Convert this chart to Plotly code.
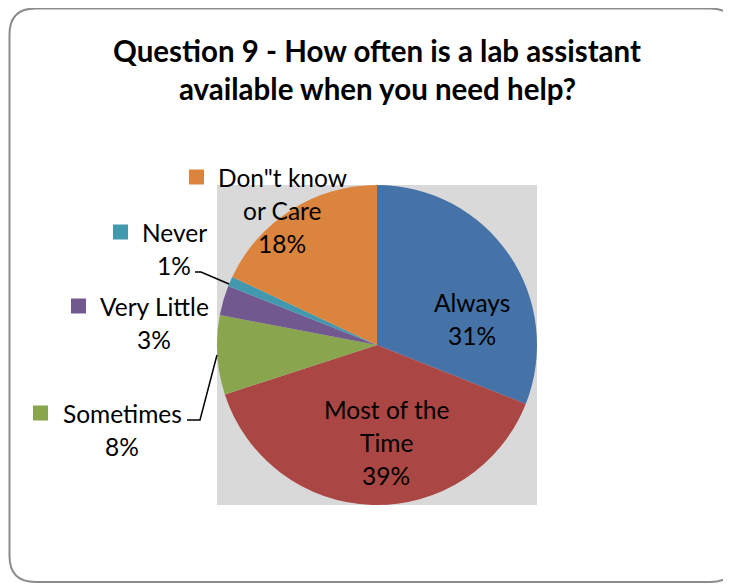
import plotly.graph_objects as go

# window size; the page body adds an 8px margin, so the figure is drawn 8px in
W, H = 731, 584
OFF = 8
FW, FH = W - OFF, H - OFF

# data
labels = ["Always", "Most of the Time", "Sometimes", "Very Little", "Never", 'Don"t know or Care']
values = [31, 39, 8, 3, 1, 18]
colors = ["#4572A7", "#AA4643", "#89A54E", "#71588F", "#4198AF", "#DB843D"]

title_lines = ["Question 9 - How often is a lab assistant", "available when you need help?"]

# label blocks: (lines, center x, first line y, key square x or None)
label_blocks = [
    (["Always", "31%"], 472, 302, None),
    (["Most of the", "Time", "39%"], 386, 409, None),
    (["Sometimes", "8%"], 122, 413, 33),
    (["Very Little", "3%"], 154, 306, 71),
    (["Never", "1%"], 174, 232, 113),
    (['Don"t know', "or Care", "18%"], 282, 177, 189),
]
line_gap = 33

# plot area in window pixels
px0, px1, py0, py1 = 217, 537, 185, 505

fig = go.Figure()

# invisible axes covering the whole figure, in window pixels
fig.add_trace(go.Scatter(x=[OFF, W], y=[OFF, H], mode="markers",
                         marker=dict(opacity=0), hoverinfo="skip", showlegend=False))

fig.add_trace(go.Pie(
    labels=labels,
    values=values,
    marker=dict(colors=colors, line=dict(width=0)),
    sort=False,
    direction="clockwise",
    rotation=0,
    textinfo="none",
    hoverinfo="label+percent",
    showlegend=False,
    domain=dict(x=[(px0 - OFF) / FW, (px1 - OFF) / FW],
                y=[1 - (py1 - OFF) / FH, 1 - (py0 - OFF) / FH]),
))

shapes = []
# gray plot area
shapes.append(dict(type="rect", xref="x", yref="y", x0=px0, x1=px1, y0=py0, y1=py1,
                   fillcolor="#D9D9D9", line=dict(width=0), layer="below"))

# rounded chart border
r = 26
bx0, bx1, by0, by1 = 9.5, 736, 8.5, 582
path = (f"M {bx0+r},{by0} L {bx1-r},{by0} Q {bx1},{by0} {bx1},{by0+r} "
        f"L {bx1},{by1-r} Q {bx1},{by1} {bx1-r},{by1} L {bx0+r},{by1} "
        f"Q {bx0},{by1} {bx0},{by1-r} L {bx0},{by0+r} Q {bx0},{by0} {bx0+r},{by0} Z")
shapes.append(dict(type="path", xref="x", yref="y", path=path,
                   line=dict(color="#8C8C8C", width=2), layer="below"))

# leader lines
shapes.append(dict(type="path", xref="x", yref="y", path="M 195,272 L 201,272 L 229,284",
                   line=dict(color="black", width=1.5)))
shapes.append(dict(type="path", xref="x", yref="y", path="M 187,420 L 200,420 L 217,355",
                   line=dict(color="black", width=1.5)))

annotations = []
for i, t in enumerate(title_lines):
    annotations.append(dict(x=377, y=50 + i * 38, xref="x", yref="y", text=f"<b>{t}</b>",
                            showarrow=False, xanchor="center", yanchor="middle",
                            font=dict(family="Lato", size=29.5, color="black")))

for (lines, cx, cy, kx), col in zip(label_blocks, colors):
    for j, t in enumerate(lines):
        annotations.append(dict(x=cx, y=cy + j * line_gap, xref="x", yref="y", text=t,
                                showarrow=False, xanchor="center", yanchor="middle",
                                font=dict(family="Lato", size=24.5, color="black")))
    if kx is not None:
        shapes.append(dict(type="rect", xref="x", yref="y", x0=kx, x1=kx + 15,
                           y0=cy - 7.5, y1=cy + 7.5, fillcolor=col, line=dict(width=0)))

fig.update_layout(
    width=FW, height=FH,
    margin=dict(l=0, r=0, t=0, b=0),
    paper_bgcolor="white",
    plot_bgcolor="white",
    xaxis=dict(range=[OFF, W], visible=False, fixedrange=True),
    yaxis=dict(range=[H, OFF], visible=False, fixedrange=True),
    shapes=shapes,
    annotations=annotations,
)

fig.write_html("out.html")
